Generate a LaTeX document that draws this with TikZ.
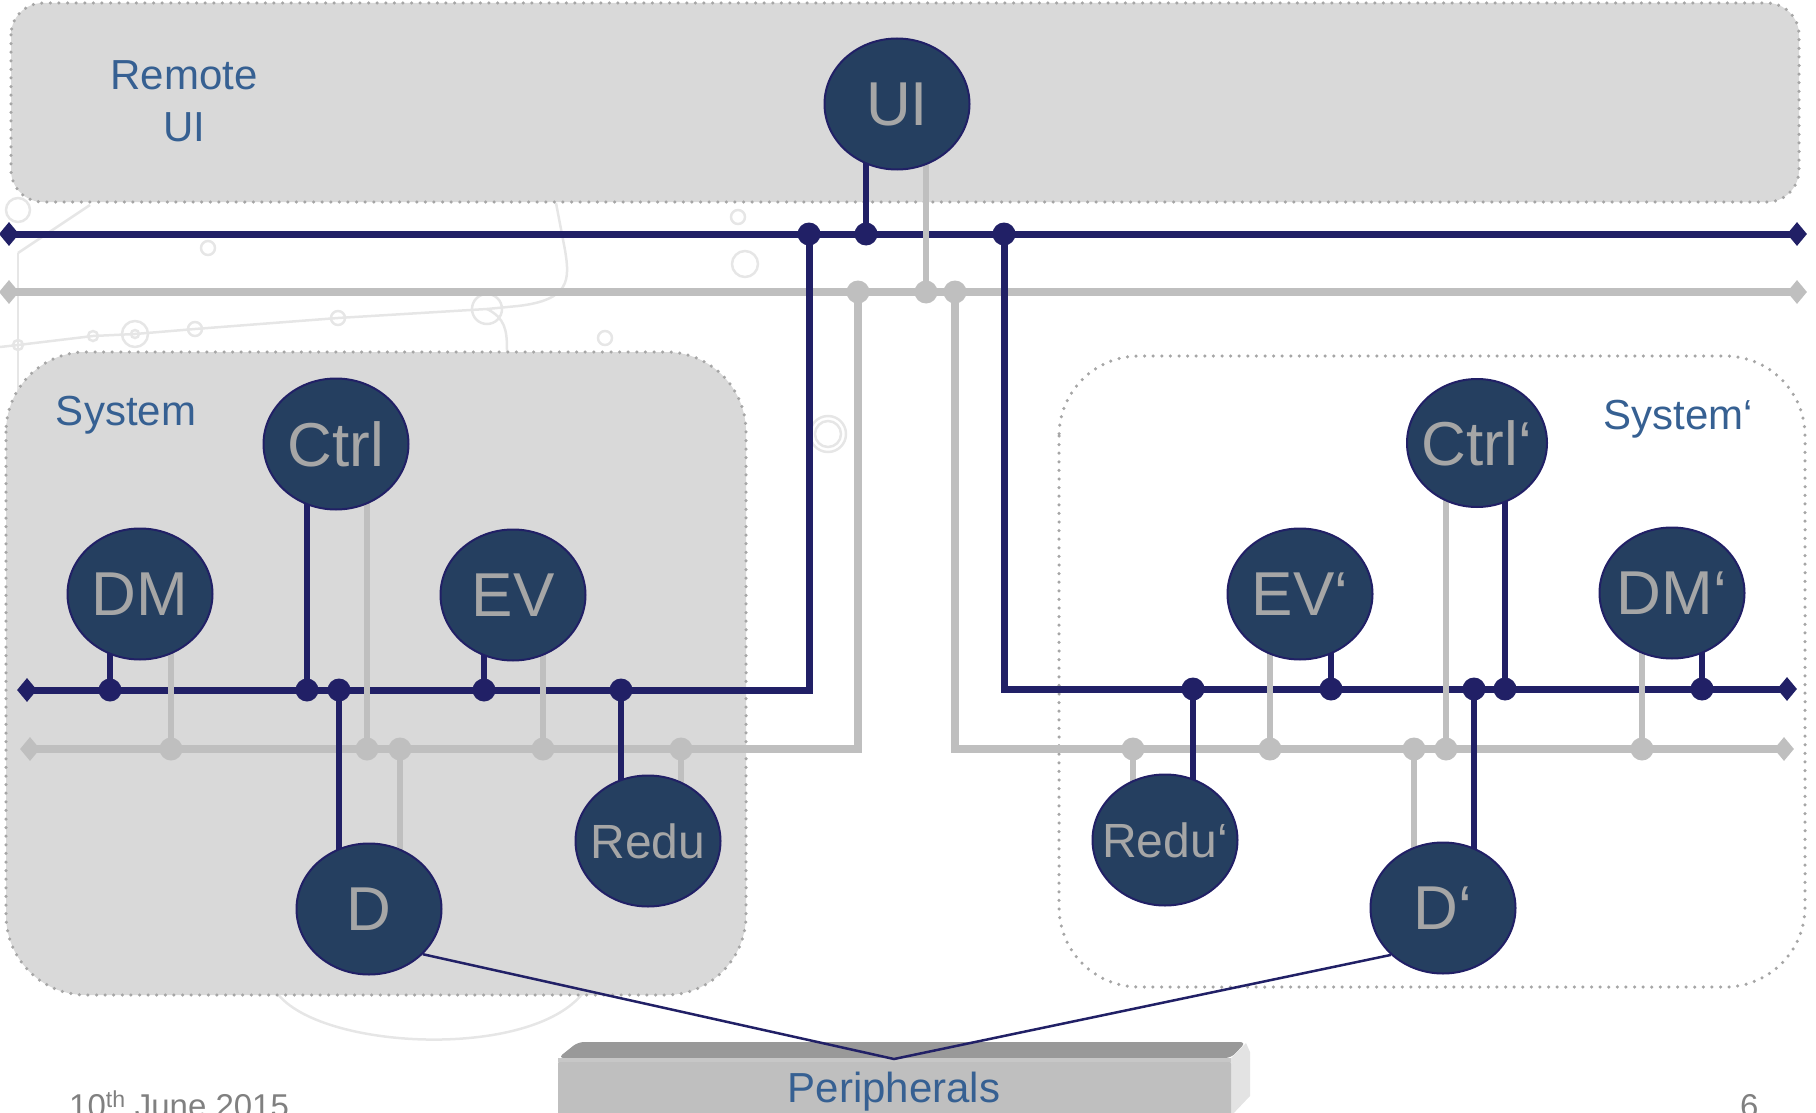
\documentclass[tikz,border=0pt]{standalone}
\usepackage{fontspec}
\setmainfont{Liberation Sans}
\usetikzlibrary{shapes.geometric}
\definecolor{navy}{RGB}{33,32,102}
\definecolor{nodefill}{RGB}{37,63,96}
\definecolor{lgray}{RGB}{191,191,191}
\definecolor{boxfill}{RGB}{217,217,217}
\definecolor{dotgray}{RGB}{166,166,166}
\definecolor{tblue}{RGB}{54,96,146}
\definecolor{ntext}{RGB}{166,166,166}
\definecolor{deco}{RGB}{230,230,230}
\definecolor{foot}{RGB}{128,128,128}
\newcommand\nlabeltext[1]{\makebox[0pt][c]{#1}}
\pgfdeclarelayer{back}
\pgfdeclarelayer{wires}
\pgfsetlayers{back,wires,main}
\begin{document}
\begin{tikzpicture}[x=1pt,y=-1pt,
  comp/.style={ellipse,draw=navy,line width=2pt,fill=nodefill,minimum width=145pt,minimum height=131pt,inner sep=0pt,text=ntext,font=\fontsize{62}{62}\selectfont},
  compsmall/.style={comp,font=\fontsize{48}{48}\selectfont},
  ndot/.style={circle,fill=navy,minimum size=23pt,inner sep=0pt},
  gdot/.style={circle,fill=lgray,minimum size=23pt,inner sep=0pt},
  ndia/.style={diamond,fill=navy,minimum width=20pt,minimum height=24pt,inner sep=0pt},
  gdia/.style={diamond,fill=lgray,minimum width=20pt,minimum height=24pt,inner sep=0pt},
  nbus/.style={draw=navy,line width=7pt},
  gbus/.style={draw=lgray,line width=8pt},
  nwire/.style={draw=navy,line width=6pt},
  gwire/.style={draw=lgray,line width=6pt},
  link/.style={draw=navy,line width=2.5pt},
  frame/.style={draw=dotgray,line width=3.5pt,line cap=round,dash pattern=on 0pt off 8.6pt},
  lbl/.style={text=tblue,font=\fontsize{42}{46}\selectfont,inner sep=0pt},
  footlbl/.style={text=foot,font=\fontsize{33}{35}\selectfont,inner sep=0pt},
  decoline/.style={draw=deco,line width=2.5pt}
]
\useasboundingbox (0,0) rectangle (1816,1113);

% ---------- background decoration and frames ----------
\begin{pgfonlayer}{back}
  \draw[decoline] (0,347) -- (18,345) -- (93,336) -- (135,334) -- (195,329) -- (338,318) -- (487,309) -- (518,306) .. controls (570,300) and (570,280) .. (565,250) -- (556,203);
  \draw[decoline] (487,309) .. controls (505,318) and (507,330) .. (507,350) -- (507,380);
  \draw[decoline] (18,253) -- (18,420);
  \draw[decoline] (18,253) -- (90,205);
  \foreach \p/\r in {{(93,336)}/5,{(135,334)}/13,{(135,334)}/4,{(195,329)}/7,{(338,318)}/7,{(487,309)}/15,{(208,248)}/7,{(605,338)}/7,{(738,217)}/7,{(745,264)}/13,{(828,434)}/18,{(828,434)}/13,{(18,345)}/5,{(18,210)}/12}
    \draw[decoline] \p circle (\r);
  \draw[decoline] (277,993) .. controls (320,1050) and (530,1060) .. (583,993);

  \draw[frame,fill=boxfill,rounded corners=32pt] (11,3) rectangle (1799,202);
  \draw[frame,fill=boxfill,rounded corners=80pt] (6,352) rectangle (746,995);
  \draw[frame,rounded corners=80pt] (1059,356) rectangle (1805,987);

  % Peripherals block
  \fill[black!40,rounded corners=6pt] (578,1042) -- (1246,1042) -- (1231,1058) -- (558,1058) -- cycle;
  \fill[black!11] (1231,1058) -- (1246,1043) -- (1250,1052) -- (1250,1096) -- (1231,1116) -- cycle;
  \fill[lgray,rounded corners=6pt] (558,1058) -- (1231,1058) -- (1231,1120) -- (558,1120) -- cycle;
  \fill[black!22] (558,1058) rectangle (1231,1062);
\end{pgfonlayer}

% ---------- components ----------
\node[comp] (UI) at (897,104) {\nlabeltext{UI}};
\node[comp] (Ctrl) at (336,444) {\nlabeltext{Ctrl}};
\node[comp] (DM) at (140,594) {\nlabeltext{DM}};
\node[comp] (EV) at (513,595) {\nlabeltext{EV}};
\node[compsmall] (Redu) at (648,841) {\nlabeltext{Redu}};
\node[comp] (D) at (369,909) {\nlabeltext{D}};
\node[comp,minimum width=140pt,minimum height=128pt] (Ctrlp) at (1477,443) {\nlabeltext{Ctrl‘}};
\node[comp] (EVp) at (1300,594) {\nlabeltext{EV‘}};
\node[comp] (DMp) at (1672,593) {\nlabeltext{DM‘}};
\node[compsmall] (Redup) at (1165,840) {\nlabeltext{Redu‘}};
\node[comp] (Dp) at (1443,908) {\nlabeltext{D‘}};

% ---------- labels ----------
\node[lbl,anchor=base] (lremote) at (184,90) {Remote};
\node[lbl,anchor=base] (lui) at (184,142) {UI};
\node[lbl,anchor=base] (lsys) at (126,425) {System};
\node[lbl,anchor=base] (lsysp) at (1678,429) {System‘};
\node[lbl,anchor=base] (peri) at (894,1102) {Peripherals};
\node[footlbl,anchor=base west] (date) at (69,1117) {10\textsuperscript{th} June 2015};
\node[footlbl,anchor=base west] (page) at (1740,1117) {6};

% ---------- bus end diamonds ----------
\node[ndia] (tnL) at (9,234) {};
\node[ndia] (tnR) at (1797,234) {};
\node[gdia] (tgL) at (9,292) {};
\node[gdia] (tgR) at (1797,292) {};
\node[ndia] (snL) at (27,690) {};
\node[gdia] (sgL) at (30,749) {};
\node[ndia] (pnR) at (1787,689) {};
\node[gdia] (pgR) at (1784,749) {};

% ---------- junction dots ----------
\node[ndot] (jnL) at (809,234) {};
\node[ndot] (jnUI) at (866,234) {};
\node[ndot] (jnR) at (1004,234) {};
\node[gdot] (jgL) at (858,292) {};
\node[gdot] (jgUI) at (926,292) {};
\node[gdot] (jgR) at (955,292) {};

\node[ndot] (nDM) at (110,690) {};
\node[ndot] (nCtrl) at (307,690) {};
\node[ndot] (nD) at (339,690) {};
\node[ndot] (nEV) at (484,690) {};
\node[ndot] (nRedu) at (621,690) {};
\node[gdot] (gDM) at (171,749) {};
\node[gdot] (gCtrl) at (367,749) {};
\node[gdot] (gD) at (400,749) {};
\node[gdot] (gEV) at (543,749) {};
\node[gdot] (gRedu) at (681,749) {};

\node[ndot] (nRedup) at (1193,689) {};
\node[ndot] (nEVp) at (1331,689) {};
\node[ndot] (nDp) at (1474,689) {};
\node[ndot] (nCtrlp) at (1505,689) {};
\node[ndot] (nDMp) at (1702,689) {};
\node[gdot] (gRedup) at (1133,749) {};
\node[gdot] (gEVp) at (1270,749) {};
\node[gdot] (gDp) at (1414,749) {};
\node[gdot] (gCtrlp) at (1446,749) {};
\node[gdot] (gDMp) at (1642,749) {};

\coordinate (pm) at (894,1059);

% ---------- wires ----------
\begin{pgfonlayer}{wires}
  % gray buses
  \draw[gbus] (tgL.center) -- (tgR.center);
  \draw[gbus] (sgL.center) -- (sgL.center -| jgL.center) -- (jgL.center);
  \draw[gbus] (jgR.center) -- (jgR.center |- pgR.center) -- (pgR.center);
  % dark buses
  \draw[nbus] (tnL.center) -- (tnR.center);
  \draw[nbus] (snL.center) -- (snL.center -| jnL.center) -- (jnL.center);
  \draw[nbus] (jnR.center) -- (jnR.center |- pnR.center) -- (pnR.center);
  % gray drops
  \foreach \j/\n in {jgUI/UI,gDM/DM,gCtrl/Ctrl,gD/D,gEV/EV,gRedu/Redu,gRedup/Redup,gEVp/EVp,gDp/Dp,gCtrlp/Ctrlp,gDMp/DMp}
    \draw[gwire] (\j.center) -- (\j.center |- \n.center);
  % dark drops
  \foreach \j/\n in {jnUI/UI,nDM/DM,nCtrl/Ctrl,nD/D,nEV/EV,nRedu/Redu,nRedup/Redup,nEVp/EVp,nDp/Dp,nCtrlp/Ctrlp,nDMp/DMp}
    \draw[nwire] (\j.center) -- (\j.center |- \n.center);
  % links to peripherals
  \draw[link] (D.-40) -- (pm) -- (Dp.-138);
\end{pgfonlayer}
\end{tikzpicture}
\end{document}
